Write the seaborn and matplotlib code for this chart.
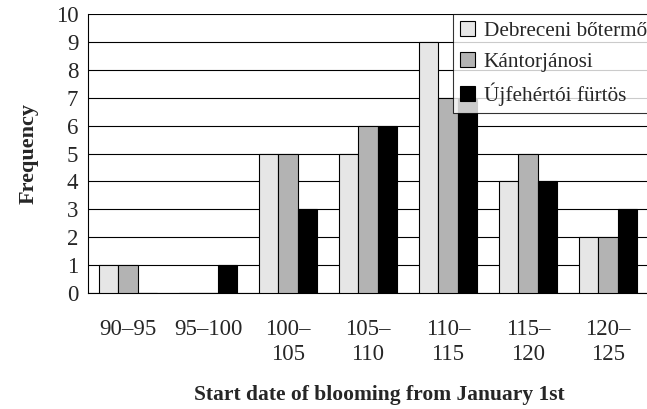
import pandas as pd
import seaborn as sns
import matplotlib.pyplot as plt
from matplotlib.ticker import FixedLocator

# data
categories = ['90–95', '95–100', '100–105', '105–110', '110–115', '115–120', '120–125']
tick_labels = ['90–95', '95–100', '100–\n105', '105–\n110', '110–\n115', '115–\n120', '120–\n125']
debreceni = [1, 0, 5, 5, 9, 4, 2]
kantorjanosi = [1, 0, 5, 6, 7, 5, 2]
ujfehertoi = [0, 1, 3, 6, 7, 4, 3]
series_names = ['Debreceni bőtermő', 'Kántorjánosi', 'Újfehértói fürtös']
colors = ['#e6e6e6', '#b3b3b3', '#000000']

df = pd.DataFrame({
    'Interval': categories * 3,
    'Frequency': debreceni + kantorjanosi + ujfehertoi,
    'Variety': [series_names[0]] * 7 + [series_names[1]] * 7 + [series_names[2]] * 7,
})

sns.set_style('white')
plt.rcParams['font.family'] = ['Liberation Serif', 'DejaVu Serif']

fig = plt.figure(figsize=(6.47, 4.09), dpi=100)
ax = fig.add_axes([88 / 647, 1 - 293 / 409, 560 / 647, 279 / 409])

sns.barplot(data=df, x='Interval', y='Frequency', hue='Variety',
            palette=colors, width=0.72, edgecolor='black', linewidth=0.8,
            ax=ax, zorder=3)

ax.set_xlim(-0.5, 6.5)
ax.set_ylim(0, 10)
ax.set_yticks(range(0, 11))
ax.yaxis.grid(True, color='black', linewidth=0.8, zorder=0)
ax.set_axisbelow(True)

# labels centered, ticks at group boundaries
ax.set_xticks(range(7))
ax.set_xticklabels(tick_labels, fontsize=16.5, linespacing=1.2)
ax.xaxis.set_minor_locator(FixedLocator([i - 0.5 for i in range(8)]))
ax.tick_params(axis='x', which='major', length=0, pad=19)
ax.tick_params(axis='x', which='minor', length=6, width=0.8, color='black', direction='out')
ax.tick_params(axis='y', length=5, width=0.8, color='black', direction='out', labelsize=16.5, pad=2)

for side in ['top', 'right']:
    ax.spines[side].set_visible(False)
for side in ['left', 'bottom']:
    ax.spines[side].set_color('black')
    ax.spines[side].set_linewidth(0.8)

ax.set_xlabel('Start date of blooming from January 1st', fontsize=15.5, fontweight='bold')
ax.xaxis.set_label_coords(0.52, -0.33)
ax.set_ylabel('Frequency', fontsize=16, fontweight='bold', labelpad=12)

leg = ax.legend(loc='upper left', bbox_to_anchor=(453 / 647, 1 - 14 / 409),
                bbox_transform=fig.transFigure, fontsize=15.3, frameon=True,
                fancybox=False, handlelength=0.7, handleheight=0.7,
                handletextpad=0.4, borderpad=0.35, labelspacing=0.5,
                borderaxespad=0)
leg.get_frame().set_edgecolor('black')
leg.get_frame().set_linewidth(0.8)
for h in leg.legend_handles:
    h.set_edgecolor('black')
    h.set_linewidth(0.8)

plt.savefig('out.png', dpi=100)
